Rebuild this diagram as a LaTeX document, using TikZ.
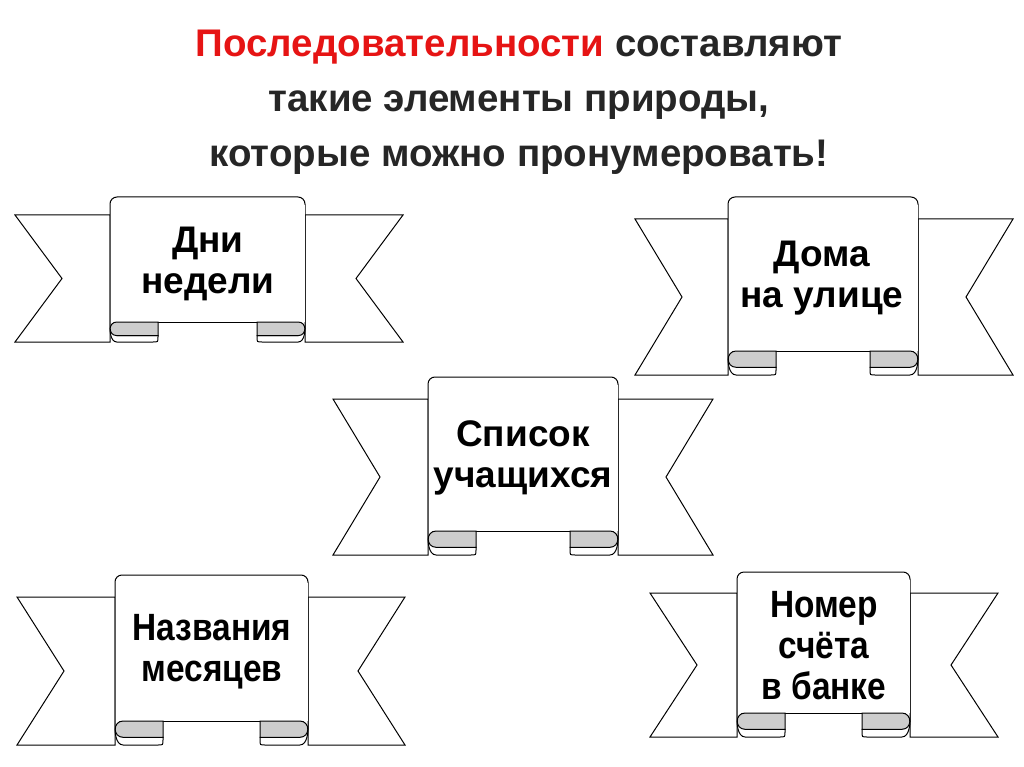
\documentclass[tikz,border=0pt]{standalone}
\usepackage{fontspec}
\setmainfont{Liberation Sans}
\newfontfamily\narrowf[FakeStretch=0.88]{Liberation Sans}
\definecolor{curlgray}{RGB}{205,205,205}
\definecolor{titlered}{RGB}{230,20,20}
\definecolor{titlegray}{RGB}{38,38,38}
\tikzset{rib/.style={draw=black,line width=1pt,fill=white,line join=miter},
 curlg/.style={draw=black,line width=1pt,fill=curlgray},
 ribtext/.style={font=\bfseries\fontsize{37}{41}\selectfont,align=center,text=black},
 ribnarrow/.style={font=\narrowf\bfseries\fontsize{38}{41}\selectfont,align=center,text=black},
 titletext/.style={font=\bfseries\fontsize{38.5}{55}\selectfont,align=center,text=titlegray}}
% #1 L, #2 pl, #3 pr, #4 R, #5 top, #6 tail top, #7 tail bottom, #8 curl top
\newcommand\ribbon[8]{%
 \pgfmathsetmacro\nL{#1+47}\pgfmathsetmacro\nR{#4-47}%
 \pgfmathsetmacro\ny{(#6+#7)/2}%
 \pgfmathsetmacro\rr{(#7-#8)*0.34}\pgfmathsetmacro\ya{#8+2*\rr}%
 \pgfmathsetmacro\w{48}\pgfmathsetmacro\s{5}%
 \draw[rib] (#1,#6) -- (#2,#6) -- (#2,#7) -- (#1,#7) -- (\nL,\ny) -- cycle;
 \draw[rib] (#4,#6) -- (#3,#6) -- (#3,#7) -- (#4,#7) -- (\nR,\ny) -- cycle;
 \draw[rib,rounded corners=7pt] (#2,#8+\rr) -- (#2,#5) -- (#3,#5) -- (#3,#8+\rr);
 \fill[white] (#2+0.5,#8) rectangle (#3-0.5,#5+8);
 \draw[rib] (#2+\w,#8) -- (#3-\w,#8);
 % left curl
 \draw[rib] (#2+\rr,\ya) -- (#2+\w,\ya) -- (#2+\w,#7-\s) .. controls (#2+\w,#7) .. (#2+\w-\s,#7) -- (#2+\rr,#7) .. controls (#2,#7) and (#2,#8+\rr) .. (#2,#8+\rr);
 \draw[curlg] (#2+\w,#8) -- (#2+\rr,#8) .. controls (#2-0.3*\rr,#8) and (#2-0.3*\rr,\ya) .. (#2+\rr,\ya) -- (#2+\w,\ya) -- cycle;
 % right curl
 \draw[rib] (#3-\rr,\ya) -- (#3-\w,\ya) -- (#3-\w,#7-\s) .. controls (#3-\w,#7) .. (#3-\w+\s,#7) -- (#3-\rr,#7) .. controls (#3,#7) and (#3,#8+\rr) .. (#3,#8+\rr);
 \draw[curlg] (#3-\w,#8) -- (#3-\rr,#8) .. controls (#3+0.3*\rr,#8) and (#3+0.3*\rr,\ya) .. (#3-\rr,\ya) -- (#3-\w,\ya) -- cycle;
}
\begin{document}
\begin{tikzpicture}[x=1pt,y=-1pt]
\useasboundingbox[fill=white] (0,0) rectangle (1024,767);
\node[titletext] (title) at (519,102) {\textcolor{titlered}{Последовательности} составляют\\такие элементы природы,\\которые можно пронумеровать!};
\ribbon{15}{110}{305}{403}{197}{215}{342}{322}
\ribbon{635}{728}{918}{1013}{197}{219}{375}{351}
\ribbon{333}{428}{618}{713}{377}{399}{555}{531}
\ribbon{17}{115}{308}{405}{575}{597}{745}{721}
\ribbon{650}{737}{910}{998}{572}{593}{737}{713}
\node[ribtext] (t1) at (208,264) {Дни\\недели};
\node[ribtext] (t2) at (822,278) {Дома\\на улице};
\node[ribtext] (t3) at (523,458) {Список\\учащихся};
\node[ribnarrow] (t4) at (212,652) {Названия\\месяцев};
\node[ribnarrow] (t5) at (824,646) {Номер\\счёта\\в банке};
\end{tikzpicture}
\end{document}
